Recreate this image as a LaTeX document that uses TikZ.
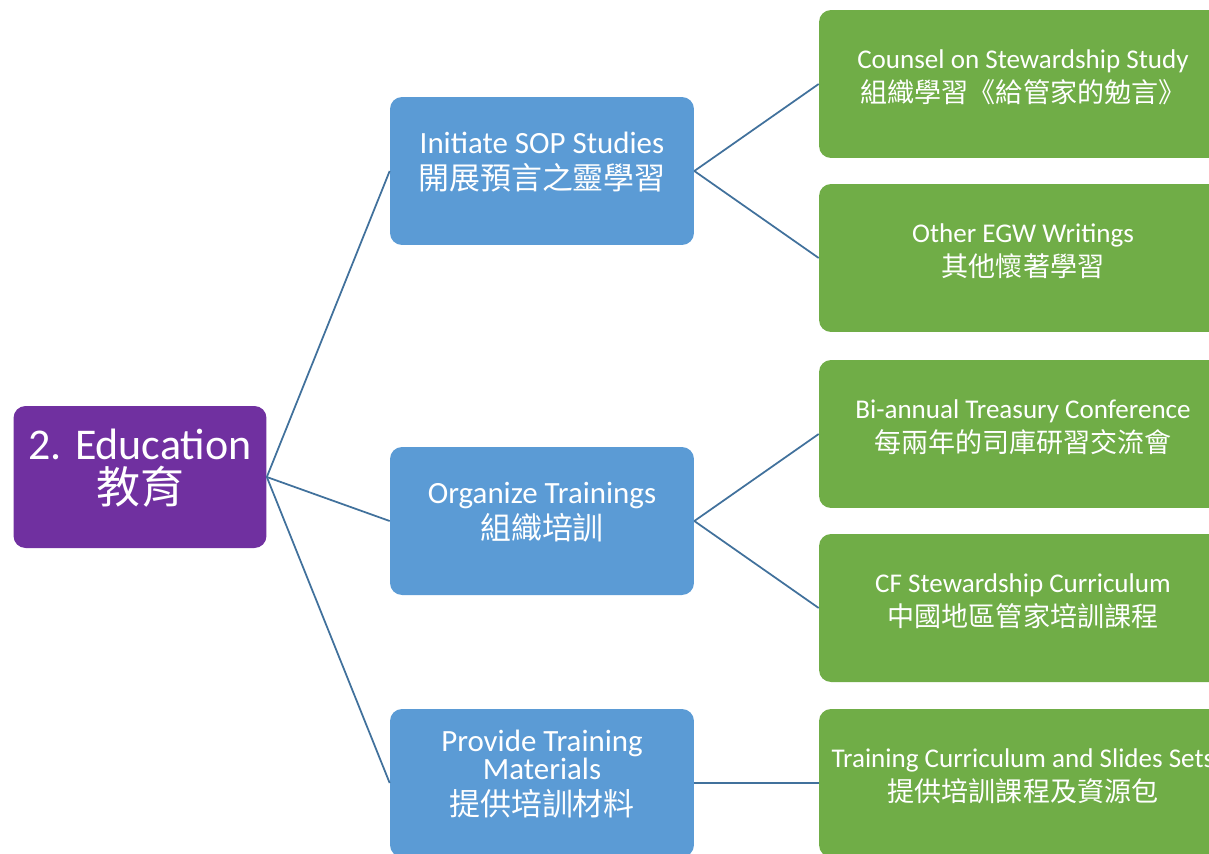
\documentclass[tikz,border=0pt]{standalone}
\usepackage{fontspec}
\setmainfont{Carlito}
\newfontfamily\cjk{Noto Sans CJK TC}
\definecolor{edupurple}{HTML}{7030A0}
\definecolor{edublue}{HTML}{5B9BD5}
\definecolor{edugreen}{HTML}{70AD47}
\definecolor{eduline}{HTML}{41719C}
\begin{document}
\begin{tikzpicture}[x=0.02cm, y=-0.02cm,
  box/.style={rounded corners=0.24cm, inner sep=0pt},
  rootbox/.style={box, fill=edupurple, minimum width=5.06cm, minimum height=2.84cm},
  bluebox/.style={box, fill=edublue, minimum width=6.08cm, minimum height=2.96cm},
  greenbox/.style={box, fill=edugreen, minimum width=8.16cm, minimum height=2.96cm},
  rtxt/.style={text=white, align=center, yshift=5pt, font=\fontsize{25}{25.5}\selectfont},
  btxt/.style={text=white, align=center, yshift=5pt, font=\fontsize{17.6}{20.6}\selectfont},
  gtxt/.style={text=white, align=center, yshift=4pt, font=\fontsize{15.4}{19.2}\selectfont},
  conn/.style={draw=eduline, line width=1pt}]
\useasboundingbox (0,0) rectangle (1209,853);

\node[rootbox, label={[rtxt]center:{2. Education\\ \cjk 教育}}] (root) at (140,477) {};

\node[bluebox, label={[btxt]center:{Initiate SOP Studies\\ \cjk 開展預言之靈學習}}] (sop) at (542,171) {};
\node[bluebox, label={[btxt]center:{Organize Trainings\\ \cjk 組織培訓}}] (train) at (542,521) {};
\node[bluebox, label={[btxt]center:{Provide Training\\[-5pt] Materials\\ \cjk 提供培訓材料}}] (mat) at (542,783) {};

\node[greenbox, label={[gtxt]center:{Counsel on Stewardship Study\\ \cjk 組織學習《給管家的勉言》}}] (counsel) at (1023,84) {};
\node[greenbox, label={[gtxt]center:{Other EGW Writings\\ \cjk 其他懷著學習}}] (egw) at (1023,258) {};
\node[greenbox, label={[gtxt]center:{Bi-annual Treasury Conference\\ \cjk 每兩年的司庫研習交流會}}] (conf) at (1023,434) {};
\node[greenbox, label={[gtxt]center:{CF Stewardship Curriculum\\ \cjk 中國地區管家培訓課程}}] (curr) at (1023,608) {};
\node[greenbox, label={[gtxt]center:{Training Curriculum and Slides Sets\\ \cjk 提供培訓課程及資源包}}] (slides) at (1023,783) {};

\draw[conn] (root.east) -- (sop.west);
\draw[conn] (root.east) -- (train.west);
\draw[conn] (root.east) -- (mat.west);
\draw[conn] (sop.east) -- (counsel.west);
\draw[conn] (sop.east) -- (egw.west);
\draw[conn] (train.east) -- (conf.west);
\draw[conn] (train.east) -- (curr.west);
\draw[conn] (mat.east) -- (slides.west);

\end{tikzpicture}
\end{document}
